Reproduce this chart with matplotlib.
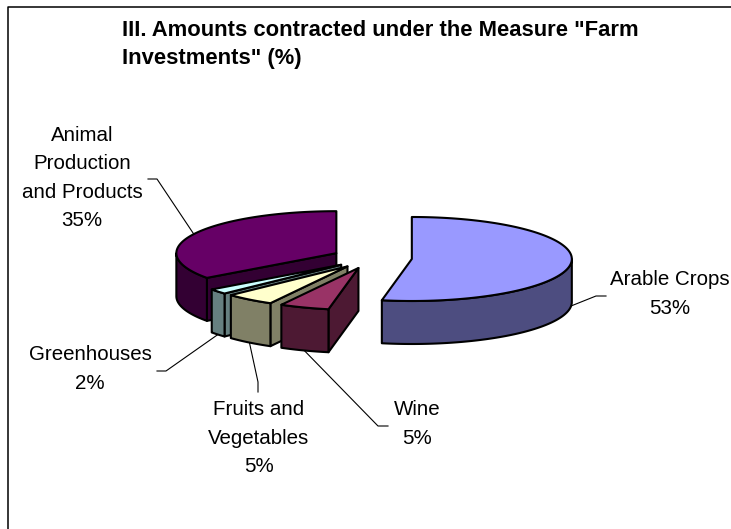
import numpy as np
import matplotlib
matplotlib.use('Agg')
import matplotlib.pyplot as plt
from matplotlib.patches import Polygon

plt.rcParams['font.family'] = ['Liberation Sans', 'DejaVu Sans']

# data
categories = ['Arable Crops', 'Wine', 'Fruits and\nVegetables', 'Greenhouses', 'Animal\nProduction\nand Products']
values = [53, 5, 5, 2, 35]
top_colors = ['#9999FF', '#993366', '#FFFFCC', '#CCFFFF', '#660066']
side_colors = ['#4D4D80', '#4D1933', '#808066', '#668080', '#330033']
title = 'III. Amounts contracted under the Measure "Farm\nInvestments" (%)'

# pie shape in pixels
cx, cy = 372, 258
rx, ry = 160, 42
depth = 43
explode_x, explode_y = 40, 10.6

# label centre, leader elbow, leader end
label_pos = [(670, 294), (417, 424), (259, 438), (90, 369), (82, 178)]
leader_elbow = [(596, 296), (378, 426), (258, 382), (166, 371), (157, 179)]
leader_end = [(606, 296), (388, 426), (258, 392), (157, 371), (148, 179)]

fig = plt.figure(figsize=(7.31, 5.29), dpi=100)
ax = fig.add_axes([0, 0, 1, 1])
ax.set_xlim(0, 731)
ax.set_ylim(529, 0)
ax.axis('off')

# outer frame
ax.plot([8, 8, 731], [529, 7, 7], color='black', lw=1.1, solid_capstyle='butt')


def pt(x0, y0, deg):
    t = np.radians(deg)
    return x0 + rx * np.sin(t), y0 - ry * np.cos(t)


def arc(x0, y0, a, b):
    ang = np.linspace(a, b, max(int(abs(b - a)) * 2, 2))
    return np.column_stack(pt(x0, y0, ang))


def face(xy, color, z):
    ax.add_patch(Polygon(xy, closed=True, facecolor=color, edgecolor='black', lw=1.5, joinstyle='round', zorder=z))


# clockwise from 12 o'clock
shares = np.array(values) / sum(values) * 360
starts = np.concatenate(([0], np.cumsum(shares)[:-1]))
ends = starts + shares
# back slice first, arable last
draw_order = [4, 3, 2, 1, 0]

for n, i in enumerate(draw_order):
    a, b = starts[i], ends[i]
    mid = np.radians((a + b) / 2)
    x0 = cx + explode_x * np.sin(mid)
    y0 = cy - explode_y * np.cos(mid)
    z = 2 + n * 3
    down = np.array([0, depth])
    # wall on the cut edge
    if 180 < a < 360:
        p = np.array(pt(x0, y0, a))
        c = np.array([x0, y0])
        face([c, p, p + down, c + down], side_colors[i], z)
    # outer wall, only the part facing the viewer
    lo, hi = max(a, 90), min(b, 270)
    if hi > lo:
        edge = arc(x0, y0, lo, hi)
        face(np.vstack((edge, edge[::-1] + down)), side_colors[i], z + 1)
    # top
    face(np.vstack(([x0, y0], arc(x0, y0, a, b))), top_colors[i], z + 2)

# leader lines
for i in range(len(categories)):
    mid = (starts[i] + ends[i]) / 2
    t = np.radians(mid)
    x0 = cx + explode_x * np.sin(t)
    y0 = cy - explode_y * np.cos(t)
    sx, sy = pt(x0, y0, mid)
    if 90 < mid < 270:
        sy = sy + depth
    ax.plot([sx, leader_elbow[i][0], leader_end[i][0]], [sy, leader_elbow[i][1], leader_end[i][1]],
            color='black', lw=0.8, zorder=1)

# labels
for i, name in enumerate(categories):
    ax.text(label_pos[i][0], label_pos[i][1], f'{name}\n{values[i]}%', ha='center', va='center',
            fontsize=14.8, linespacing=1.62, color='black', clip_on=True)

ax.text(122, 20, title, ha='left', va='top', fontsize=15.8, fontweight='bold', linespacing=1.42)

fig.savefig('out.png', dpi=100)
